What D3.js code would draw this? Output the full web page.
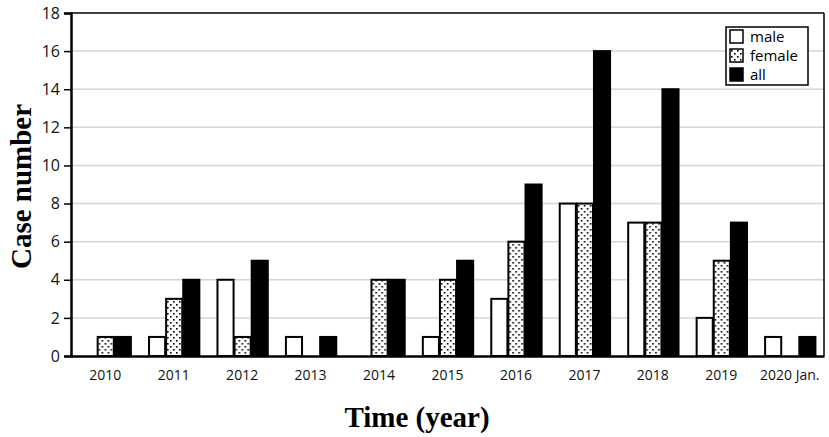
<!DOCTYPE html>
<html>
<head>
<meta charset="utf-8">
<script src="https://cdn.jsdelivr.net/npm/d3@7"></script>
<style>
  body { margin: 0; background: #fff; }
  svg { display: block; }
</style>
</head>
<body>
<div id="chart"></div>
<script>
// data
const years  = ['2010', '2011', '2012', '2013', '2014', '2015', '2016', '2017', '2018', '2019', '2020 Jan.'];
const male   = [0, 1, 4, 1, 0, 1, 3, 8, 7, 2, 1];
const female = [1, 3, 1, 0, 4, 4, 6, 8, 7, 5, 0];
const all    = [1, 4, 5, 1, 4, 5, 9, 16, 14, 7, 1];
const series = ['male', 'female', 'all'];
const yTicks = [0, 2, 4, 6, 8, 10, 12, 14, 16, 18];

const width = 829, height = 437;
const margin = { t: 13, r: 5, b: 81, l: 71 };

const svg = d3.select('#chart').append('svg')
  .attr('width', width).attr('height', height);

// dotted fill for the female bars
const defs = svg.append('defs');
const pat = defs.append('pattern')
  .attr('id', 'dots').attr('patternUnits', 'userSpaceOnUse')
  .attr('width', 6).attr('height', 6);
pat.append('rect').attr('width', 6).attr('height', 6).attr('fill', '#fff');
pat.append('rect').attr('x', 1).attr('y', 1).attr('width', 1.6).attr('height', 1.6).attr('fill', '#000');
pat.append('rect').attr('x', 4).attr('y', 4).attr('width', 1.6).attr('height', 1.6).attr('fill', '#000');

const fills = { male: '#fff', female: 'url(#dots)', all: '#000' };

const table = years.map((y, i) => ({ year: y, male: male[i], female: female[i], all: all[i] }));

const x = d3.scaleBand().domain(years)
  .range([margin.l, width - margin.r]).paddingInner(0.25).paddingOuter(0.125);
const xs = d3.scaleBand().domain(series).range([0, x.bandwidth()]);
const y = d3.scaleLinear().domain([0, 18]).range([height - margin.b, margin.t]);

// grid
svg.append('g')
  .selectAll('line').data(yTicks.filter(d => d > 0 && d < 18)).join('line')
  .attr('x1', margin.l).attr('x2', width - margin.r)
  .attr('y1', d => y(d)).attr('y2', d => y(d))
  .attr('stroke', '#d4d4d4').attr('stroke-width', 1.5);

// bars
svg.append('g')
  .selectAll('g').data(table).join('g')
  .attr('transform', d => `translate(${x(d.year)},0)`)
  .selectAll('rect')
  .data(d => series.map(k => ({ key: k, value: d[k] })).filter(d => d.value > 0))
  .join('rect')
  .attr('x', d => xs(d.key) + 1)
  .attr('width', xs.bandwidth() - 1)
  .attr('y', d => y(d.value))
  .attr('height', d => y(0) - y(d.value))
  .attr('fill', d => fills[d.key])
  .attr('stroke', '#000').attr('stroke-width', 2);

// frame: top and right
svg.append('line')
  .attr('x1', margin.l).attr('x2', width - margin.r)
  .attr('y1', y(18)).attr('y2', y(18))
  .attr('stroke', '#000').attr('stroke-width', 1.5);
svg.append('line')
  .attr('x1', width - margin.r).attr('x2', width - margin.r)
  .attr('y1', y(18)).attr('y2', y(0))
  .attr('stroke', '#000').attr('stroke-width', 1.5);

// y axis
const yAxis = svg.append('g')
  .attr('transform', `translate(${margin.l},0)`)
  .call(d3.axisLeft(y).tickValues(yTicks).tickSize(7).tickPadding(4));
yAxis.select('.domain').attr('stroke-width', 2.5);
yAxis.selectAll('.tick line').attr('stroke-width', 1.5);
yAxis.selectAll('text')
  .attr('font-family', '"Open Sans", sans-serif').attr('font-size', 16).attr('fill', '#111');

// x axis
const xAxis = svg.append('g')
  .attr('transform', `translate(0,${y(0)})`)
  .call(d3.axisBottom(x).tickSize(0).tickPadding(14).tickSizeOuter(0));
xAxis.select('.domain').attr('stroke-width', 2.5);
xAxis.selectAll('text')
  .attr('font-family', '"Open Sans", sans-serif').attr('font-size', 14).attr('fill', '#111');

// axis titles
svg.append('text')
  .attr('x', 417).attr('y', 427)
  .attr('text-anchor', 'middle')
  .attr('font-family', '"Liberation Serif", "Times New Roman", serif')
  .attr('font-weight', 'bold').attr('font-size', 29)
  .text('Time (year)');

svg.append('text')
  .attr('transform', `translate(31,${(y(0) + y(18)) / 2 + 2}) rotate(-90)`)
  .attr('text-anchor', 'middle')
  .attr('font-family', '"Liberation Serif", "Times New Roman", serif')
  .attr('font-weight', 'bold').attr('font-size', 29)
  .text('Case number');

// legend
const lg = svg.append('g').attr('transform', 'translate(726,27)');
lg.append('rect')
  .attr('width', 82).attr('height', 58)
  .attr('fill', '#fff').attr('stroke', '#000').attr('stroke-width', 1.5);
const item = lg.selectAll('g.item').data(series).join('g')
  .attr('class', 'item')
  .attr('transform', (d, i) => `translate(4,${3 + i * 19})`);
item.append('rect')
  .attr('width', 13).attr('height', 13)
  .attr('fill', d => fills[d]).attr('stroke', '#000').attr('stroke-width', 1.5);
item.append('text')
  .attr('x', 20).attr('y', 12)
  .attr('font-family', '"Open Sans", sans-serif').attr('font-size', 15)
  .text(d => d);
</script>
</body>
</html>
